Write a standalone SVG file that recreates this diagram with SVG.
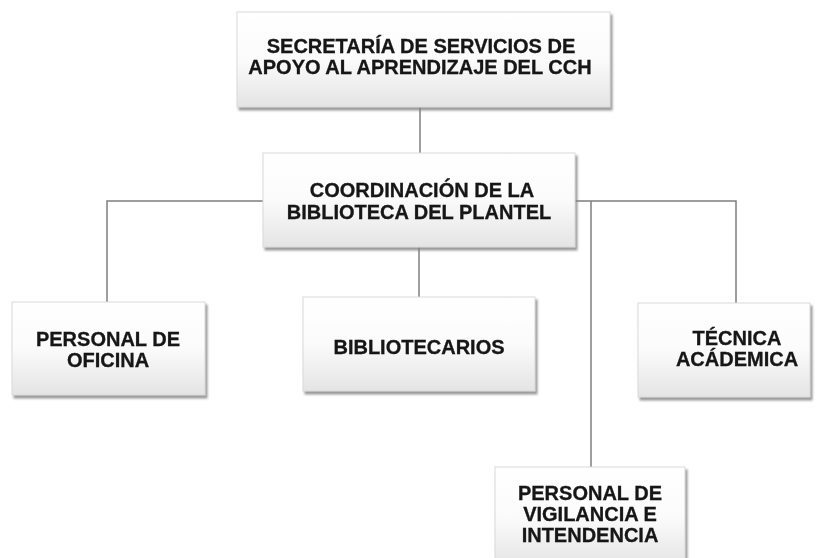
<svg xmlns="http://www.w3.org/2000/svg" width="820" height="558" viewBox="0 0 820 558">
<defs>
<linearGradient id="g" x1="0" y1="0" x2="0" y2="1">
<stop offset="0" stop-color="#ffffff"/>
<stop offset="0.5" stop-color="#fbfbfb"/>
<stop offset="1" stop-color="#e4e4e4"/>
</linearGradient>
<filter id="sh" x="-10%" y="-10%" width="125%" height="130%">
<feDropShadow dx="2" dy="3" stdDeviation="1.2" flood-color="#808080" flood-opacity="0.8"/>
</filter>
<filter id="tb" x="-5%" y="-20%" width="110%" height="140%">
<feGaussianBlur stdDeviation="0.3"/>
</filter>
</defs>
<style>
.box{fill:url(#g);stroke:#d9d9d9;stroke-width:1;filter:url(#sh)}
.t{font-family:"Liberation Sans",Arial,sans-serif;font-weight:bold;font-size:20px;fill:#151515;stroke:#151515;stroke-width:0.3;text-anchor:middle;filter:url(#tb)}
.c{stroke:#7f7f7f;stroke-width:1.5;fill:none}
</style>
<rect width="820" height="558" fill="#ffffff"/>
<g id="connectors">
<line class="c" x1="420" y1="107" x2="420" y2="153"/>
<polyline class="c" points="263,201 107,201 107,302"/>
<polyline class="c" points="575,201 736,201 736,303"/>
<line class="c" x1="591" y1="201" x2="591" y2="467"/>
<line class="c" x1="419" y1="247" x2="419" y2="297"/>
</g>
<g id="secretaria">
<rect class="box" x="237" y="12" width="373" height="95"/>
<text class="t" x="421" y="53">SECRETARÍA DE SERVICIOS DE</text>
<text class="t" x="420" y="74">APOYO AL APRENDIZAJE DEL CCH</text>
</g>
<g id="coordinacion">
<rect class="box" x="263" y="153" width="312" height="94"/>
<text class="t" x="422" y="197">COORDINACIÓN DE LA</text>
<text class="t" x="419" y="219">BIBLIOTECA DEL PLANTEL</text>
</g>
<g id="oficina">
<rect class="box" x="12" y="302" width="193" height="93"/>
<text class="t" x="108" y="346">PERSONAL DE</text>
<text class="t" x="108" y="367">OFICINA</text>
</g>
<g id="bibliotecarios">
<rect class="box" x="303" y="297" width="232" height="94"/>
<text class="t" x="419" y="354">BIBLIOTECARIOS</text>
</g>
<g id="tecnica">
<rect class="box" x="638" y="303" width="172" height="94"/>
<text class="t" x="737" y="345">TÉCNICA</text>
<text class="t" x="737" y="366">ACÁDEMICA</text>
</g>
<g id="vigilancia">
<rect class="box" x="495" y="467" width="190" height="100"/>
<text class="t" x="590" y="500">PERSONAL DE</text>
<text class="t" x="590" y="521">VIGILANCIA E</text>
<text class="t" x="590" y="542">INTENDENCIA</text>
</g>
</svg>
